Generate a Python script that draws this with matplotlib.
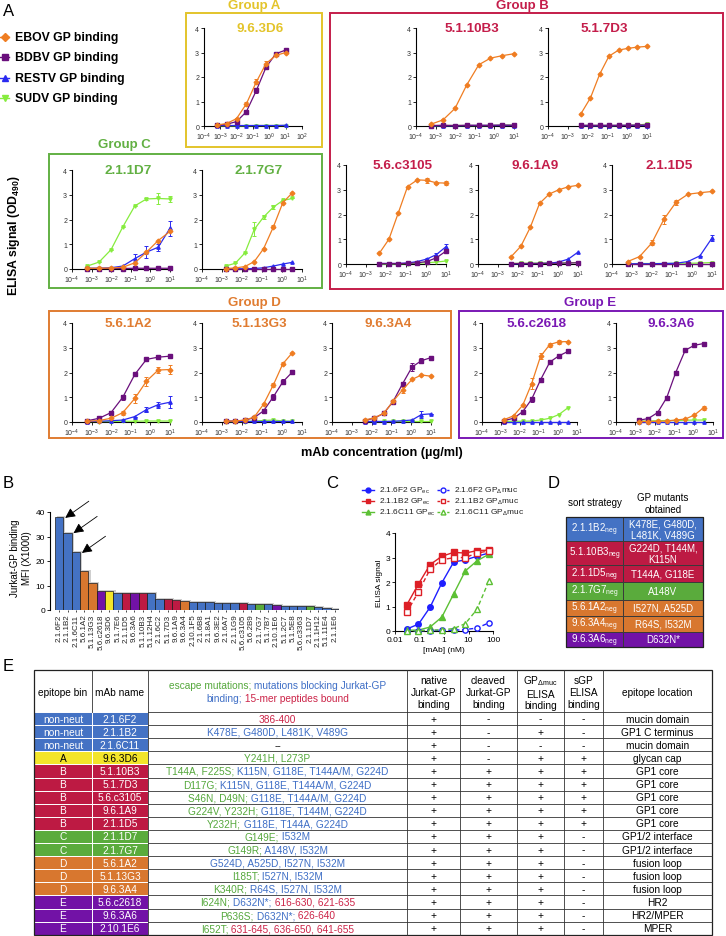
import numpy as np
import matplotlib
matplotlib.use("Agg")
import matplotlib.pyplot as plt
from matplotlib.patches import Rectangle

W, H = 726, 937

# ---------------- A: ELISA titrations (OD490 vs mAb ug/ml) ----------------
CONC_4X = [0.00061, 0.0024, 0.0098, 0.039, 0.16, 0.63, 2.5, 10]
CONC_3X_HI = [0.0046, 0.014, 0.041, 0.12, 0.37, 1.1, 3.3, 10]
CONC_3X_LO = [0.0015, 0.0046, 0.014, 0.041, 0.12, 0.37, 1.1, 3.3]
VIRUSES = ["EBOV", "BDBV", "RESTV", "SUDV"]

MAB_963D6 = {
    "EBOV": [0.04, 0.10, 0.30, 0.90, 1.80, 2.55, 2.88, 3.00],
    "BDBV": [0.03, 0.07, 0.18, 0.58, 1.45, 2.40, 2.95, 3.10],
    "RESTV": [0.02, 0.02, 0.02, 0.02, 0.02, 0.02, 0.02, 0.03],
    "SUDV": [0.01, 0.01, 0.01, 0.01, 0.02, 0.02, 0.02, 0.02],
    "EBOV_sd": [0, 0, 0.04, 0.10, 0.10, 0.12, 0.03, 0.03],
    "BDBV_sd": [0, 0, 0, 0.05, 0.10, 0.05, 0.03, 0.03],
}
MAB_5110B3 = {
    "EBOV": [0.08, 0.25, 0.72, 1.68, 2.50, 2.77, 2.87, 2.95],
    "BDBV": [0.02, 0.03, 0.02, 0.03, 0.03, 0.03, 0.04, 0.03],
    "RESTV": [0.01, 0.01, 0.01, 0.02, 0.02, 0.02, 0.02, 0.02],
    "SUDV": [0.01, 0.02, 0.02, 0.02, 0.02, 0.02, 0.03, 0.04],
}
MAB_517D3 = {
    "EBOV": [0.50, 1.15, 2.12, 2.85, 3.10, 3.17, 3.22, 3.25],
    "BDBV": [0.03, 0.03, 0.03, 0.03, 0.03, 0.03, 0.04, 0.04],
    "RESTV": [0.01, 0.01, 0.01, 0.01, 0.02, 0.02, 0.02, 0.02],
    "SUDV": [0.02, 0.02, 0.02, 0.02, 0.02, 0.03, 0.04, 0.08],
}
MAB_56C3105 = {
    "EBOV": [0.43, 1.00, 2.06, 3.13, 3.40, 3.38, 3.28, 3.27],
    "BDBV": [0.02, 0.02, 0.02, 0.03, 0.05, 0.10, 0.25, 0.52],
    "RESTV": [0.02, 0.02, 0.02, 0.04, 0.10, 0.20, 0.38, 0.70],
    "SUDV": [0.00, 0.00, 0.01, 0.02, 0.03, 0.05, 0.08, 0.12],
    "EBOV_sd": [0, 0, 0, 0, 0, 0.10, 0.04, 0.08],
    "BDBV_sd": [0, 0, 0, 0, 0, 0, 0.05, 0.05],
    "RESTV_sd": [0, 0, 0, 0, 0, 0.05, 0.08, 0.10],
}
MAB_961A9 = {
    "EBOV": [0.30, 0.72, 1.48, 2.45, 2.83, 3.00, 3.12, 3.18],
    "BDBV": [0.02, 0.02, 0.02, 0.02, 0.03, 0.03, 0.04, 0.05],
    "RESTV": [0.01, 0.01, 0.02, 0.02, 0.03, 0.08, 0.20, 0.48],
    "SUDV": [0.02, 0.03, 0.03, 0.04, 0.04, 0.04, 0.05, 0.06],
}
MAB_211D5 = {
    "EBOV": [0.10, 0.30, 0.85, 1.80, 2.50, 2.82, 2.88, 2.93],
    "BDBV": [0.02, 0.02, 0.02, 0.02, 0.02, 0.02, 0.02, 0.02],
    "RESTV": [0.01, 0.01, 0.01, 0.02, 0.03, 0.10, 0.33, 1.05],
    "SUDV": [0.01, 0.02, 0.02, 0.02, 0.03, 0.03, 0.04, 0.06],
    "EBOV_sd": [0, 0, 0.10, 0.18, 0.10, 0, 0, 0],
    "RESTV_sd": [0, 0, 0, 0, 0, 0, 0, 0.12],
}
MAB_211D7 = {
    "EBOV": [0.03, 0.03, 0.04, 0.07, 0.25, 0.68, 1.15, 1.52],
    "BDBV": [0.02, 0.02, 0.02, 0.02, 0.03, 0.03, 0.03, 0.03],
    "RESTV": [0.03, 0.03, 0.05, 0.12, 0.42, 0.68, 0.88, 1.65],
    "SUDV": [0.12, 0.28, 0.78, 1.70, 2.55, 2.83, 2.85, 2.83],
    "RESTV_sd": [0, 0, 0, 0, 0.18, 0.25, 0.15, 0.30],
    "SUDV_sd": [0, 0, 0, 0, 0, 0.05, 0.22, 0.12],
}
MAB_217G7 = {
    "EBOV": [0.02, 0.04, 0.10, 0.30, 0.82, 1.70, 2.68, 3.08],
    "BDBV": [0.02, 0.02, 0.02, 0.02, 0.02, 0.02, 0.02, 0.02],
    "RESTV": [0.01, 0.01, 0.01, 0.02, 0.05, 0.12, 0.20, 0.27],
    "SUDV": [0.12, 0.23, 0.65, 1.60, 2.10, 2.50, 2.77, 2.85],
    "EBOV_sd": [0, 0, 0, 0, 0, 0.06, 0, 0],
    "SUDV_sd": [0, 0, 0, 0.28, 0.07, 0.08, 0, 0],
}
MAB_561A2 = {
    "EBOV": [0.03, 0.06, 0.15, 0.38, 0.95, 1.65, 2.10, 2.12],
    "BDBV": [0.05, 0.15, 0.38, 1.00, 1.92, 2.53, 2.62, 2.66],
    "RESTV": [0.02, 0.03, 0.05, 0.08, 0.22, 0.50, 0.70, 0.80],
    "SUDV": [0.02, 0.02, 0.02, 0.03, 0.03, 0.04, 0.04, 0.04],
    "EBOV_sd": [0, 0, 0, 0.08, 0.20, 0.18, 0.12, 0.18],
    "BDBV_sd": [0, 0, 0.05, 0.10, 0.08, 0.05, 0, 0],
    "RESTV_sd": [0, 0, 0, 0, 0, 0.10, 0.12, 0.25],
}
MAB_5113G3 = {
    "EBOV": [0.03, 0.04, 0.08, 0.20, 0.72, 1.50, 2.35, 2.80],
    "BDBV": [0.03, 0.04, 0.07, 0.18, 0.45, 1.02, 1.62, 2.02],
    "RESTV": [0.03, 0.03, 0.03, 0.03, 0.03, 0.03, 0.03, 0.03],
    "SUDV": [0.02, 0.02, 0.02, 0.04, 0.06, 0.08, 0.04, 0.03],
    "EBOV_sd": [0, 0, 0, 0, 0, 0.08, 0.06, 0],
    "BDBV_sd": [0, 0, 0, 0, 0.08, 0.12, 0.10, 0.08],
}
MAB_963A4 = {
    "EBOV": [0.08, 0.17, 0.35, 0.83, 1.30, 1.72, 1.90, 1.85],
    "BDBV": [0.06, 0.16, 0.35, 0.82, 1.55, 2.22, 2.48, 2.60],
    "RESTV": [0.02, 0.02, 0.02, 0.03, 0.05, 0.08, 0.30, 0.33],
    "SUDV": [0.03, 0.03, 0.03, 0.03, 0.03, 0.03, 0.03, 0.03],
    "EBOV_sd": [0, 0, 0, 0, 0.12, 0, 0, 0],
    "BDBV_sd": [0, 0, 0, 0, 0.05, 0.15, 0.10, 0],
    "RESTV_sd": [0, 0, 0, 0, 0, 0, 0.15, 0],
}
MAB_56C2618 = {
    "EBOV": [0.10, 0.25, 0.68, 1.55, 2.65, 3.13, 3.24, 3.25],
    "BDBV": [0.06, 0.15, 0.42, 0.92, 1.70, 2.42, 2.67, 2.85],
    "RESTV": [0.02, 0.02, 0.02, 0.02, 0.02, 0.02, 0.02, 0.02],
    "SUDV": [0.02, 0.03, 0.03, 0.04, 0.08, 0.15, 0.30, 0.57],
    "EBOV_sd": [0, 0, 0, 0.22, 0.12, 0.08, 0.08, 0],
    "BDBV_sd": [0, 0, 0, 0.10, 0.06, 0.05, 0, 0],
}
MAB_963A6 = {
    "EBOV": [0.02, 0.02, 0.03, 0.04, 0.08, 0.12, 0.28, 0.58],
    "BDBV": [0.07, 0.14, 0.38, 0.98, 2.00, 2.90, 3.10, 3.17],
    "RESTV": [0.02, 0.02, 0.02, 0.02, 0.02, 0.02, 0.02, 0.02],
    "SUDV": [0.04, 0.04, 0.05, 0.06, 0.06, 0.07, 0.08, 0.08],
    "EBOV_sd": [0, 0, 0, 0, 0, 0, 0, 0.08],
    "BDBV_sd": [0, 0, 0, 0, 0.06, 0, 0, 0],
}

# ---------------- B: Jurkat-GP binding ----------------
B_MABS = ["2.1.6F2", "2.1.1B2", "2.1.6C11", "5.6.1A2", "5.1.13G3", "5.6.c2618",
          "9.6.3D6", "5.1.7E6", "2.1.1D5", "9.6.3A6", "5.1.10B3", "5.1.12H4",
          "2.1.6C2", "5.1.7D3", "9.6.1A9", "9.6.3A4", "2.10.1F5", "2.1.6B8",
          "2.1.8A1", "9.6.3E2", "2.1.6A7", "2.1.1G9", "5.6.c3105", "5.6.2B9",
          "2.1.7G7", "5.1.7B7", "2.10.1E6", "5.1.2C7", "5.1.5E8", "5.6.c3363",
          "2.1.1D7", "2.1.1H12", "5.1.11E4", "2.1.1E6"]
B_MFI = [37.8, 31.6, 23.5, 16.0, 10.9, 7.9, 7.6, 7.1, 7.1, 6.8, 6.8, 6.8,
         4.6, 4.4, 4.1, 3.8, 3.4, 3.4, 3.4, 3.0, 3.0, 2.9, 2.7, 2.6,
         2.6, 2.5, 2.1, 1.8, 1.8, 1.7, 1.5, 1.3, 1.0, 0.6]
B_BIN = ["N", "N", "N", "D", "D", "E", "A", "N", "B", "E", "B", "N",
         "N", "B", "B", "D", "N", "N", "N", "N", "N", "N", "B", "N",
         "C", "N", "E", "N", "N", "N", "C", "N", "N", "N"]

# ---------------- C: ELISA, GPec vs GP-delta-muc ----------------
C_CONC = [0.030, 0.091, 0.27, 0.82, 2.5, 7.4, 22, 67]
F2_EC = [0.08, 0.28, 0.97, 1.97, 2.82, 2.90, 3.05, 3.18]
B2_EC = [1.06, 1.92, 2.71, 3.05, 3.21, 3.18, 3.28, 3.30]
C11_EC = [0.03, 0.04, 0.16, 0.57, 1.52, 2.45, 2.86, 3.13]
F2_DMUC = [0.00, 0.02, 0.02, 0.03, 0.03, 0.06, 0.12, 0.33]
B2_DMUC = [0.76, 1.60, 2.52, 2.91, 2.99, 3.00, 3.18, 3.27]
C11_DMUC = [0.00, 0.01, 0.03, 0.05, 0.10, 0.30, 0.88, 2.03]

# ---------------- D: escape sorts ----------------
D_SORT = ["2.1.1B2", "5.1.10B3", "2.1.1D5", "2.1.7G7", "5.6.1A2", "9.6.3A4", "9.6.3A6"]
D_MUTANTS = ["K478E, G480D,\nL481K, V489G", "G224D, T144M,\nK115N", "T144A, G118E",
             "A148V", "I527N, A525D", "R64S, I532M", "D632N*"]
D_BIN = ["N", "B", "B", "C", "D", "D", "E"]

# ---------------- E: summary table ----------------
E_BIN = ["non-neut", "non-neut", "non-neut", "A", "B", "B", "B", "B", "B",
         "C", "C", "D", "D", "D", "E", "E", "E"]
E_MAB = ["2.1.6F2", "2.1.1B2", "2.1.6C11", "9.6.3D6", "5.1.10B3", "5.1.7D3",
         "5.6.c3105", "9.6.1A9", "2.1.1D5", "2.1.1D7", "2.1.7G7", "5.6.1A2",
         "5.1.13G3", "9.6.3A4", "5.6.c2618", "9.6.3A6", "2.10.1E6"]
E_MUT = [
    [("386-400", "r")],
    [("K478E, G480D, L481K, V489G", "b")],
    [("--", "k")],
    [("Y241H, L273P", "g")],
    [("T144A, F225S;", "g"), (" K115N, G118E, T144A/M, G224D", "b")],
    [("D117G;", "g"), (" K115N, G118E, T144A/M, G224D", "b")],
    [("S46N, D49N;", "g"), (" G118E, T144A/M, G224D", "b")],
    [("G224V, Y232H;", "g"), (" G118E, T144M, G224D", "b")],
    [("Y232H;", "g"), (" G118E, T144A, G224D", "b")],
    [("G149E;", "g"), (" I532M", "b")],
    [("G149R;", "g"), (" A148V, I532M", "b")],
    [("G524D, A525D, I527N, I532M", "b")],
    [("I185T;", "g"), (" I527N, I532M", "b")],
    [("K340R;", "g"), (" R64S, I527N, I532M", "b")],
    [("I624N;", "g"), (" D632N*;", "b"), (" 616-630, 621-635", "r")],
    [("P636S;", "g"), (" D632N*;", "b"), (" 626-640", "r")],
    [("I652T;", "g"), (" 631-645, 636-650, 641-655", "r")],
]
E_NATIVE = ["+", "+", "+", "+", "+", "+", "+", "+", "+", "+", "+", "+", "+", "+", "+", "+", "+"]
E_CLEAVED = ["-", "-", "-", "-", "+", "+", "+", "+", "+", "+", "+", "+", "+", "+", "+", "+", "+"]
E_DMUC = ["-", "+", "-", "+", "+", "+", "+", "+", "+", "+", "+", "+", "+", "+", "+", "+", "+"]
E_SGP = ["-", "-", "-", "+", "+", "+", "+", "+", "+", "-", "-", "-", "-", "-", "-", "-", "-"]
E_LOC = ["mucin domain", "GP1 C terminus", "mucin domain", "glycan cap", "GP1 core",
         "GP1 core", "GP1 core", "GP1 core", "GP1 core", "GP1/2 interface",
         "GP1/2 interface", "fusion loop", "fusion loop", "fusion loop", "HR2",
         "HR2/MPER", "MPER"]

# ---------------- style ----------------
plt.rcParams["font.family"] = ["Liberation Sans", "DejaVu Sans"]
plt.rcParams["mathtext.fontset"] = "custom"
plt.rcParams["mathtext.rm"] = "Liberation Sans"
plt.rcParams["mathtext.it"] = "Liberation Sans:italic"
plt.rcParams["mathtext.bf"] = "Liberation Sans:bold"
plt.rcParams["axes.unicode_minus"] = False

VCOL = {"EBOV": "#ef7d22", "BDBV": "#6a0f7c", "RESTV": "#2a2af0", "SUDV": "#86ec3e"}
VMARK = {"EBOV": "D", "BDBV": "s", "RESTV": "^", "SUDV": "v"}
GROUP_COL = {"A": "#e3c42b", "B": "#c41d4a", "C": "#62b043", "D": "#e07c31", "E": "#7a18b4"}
BIN_COL = {"N": "#4472c4", "A": "#f3e52a", "B": "#bd1a43", "C": "#5aab3c",
           "D": "#d8772f", "E": "#7212a6"}
TXT_COL = {"g": "#55a83c", "b": "#3f6fc6", "r": "#cc2448", "k": "#111111"}

fig = plt.figure(figsize=(W / 100, H / 100), dpi=100)
ov = fig.add_axes([0, 0, 1, 1])
ov.set_xlim(0, W)
ov.set_ylim(H, 0)
ov.axis("off")
renderer = fig.canvas.get_renderer()


def add_ax(x0, y0, x1, y1):
    # pixel box: x0 left, y0 top, x1 right, y1 bottom
    ax = fig.add_axes([x0 / W, 1 - y1 / H, (x1 - x0) / W, (y1 - y0) / H])
    ax.patch.set_alpha(0)
    return ax


def rich_text(x, y, parts, fontsize):
    texts = [ov.text(0, y, s, color=TXT_COL[c], fontsize=fontsize, ha="left", va="center")
             for s, c in parts]
    widths = [t.get_window_extent(renderer).width for t in texts]
    x0 = x - sum(widths) / 2
    for t, w in zip(texts, widths):
        t.set_x(x0)
        x0 += w


def elisa(ax, conc, d, title, tcolor, xmax):
    for v in ["SUDV", "RESTV", "BDBV", "EBOV"]:
        ax.errorbar(conc, d[v], yerr=d.get(v + "_sd"), color=VCOL[v], marker=VMARK[v],
                    ms=2.4, lw=0.9, elinewidth=0.7, capsize=1.3, capthick=0.7,
                    clip_on=False, zorder=3)
    ax.set_xscale("log")
    ax.set_xlim(1e-4, xmax)
    ax.set_ylim(0, 4)
    ax.set_yticks(range(5))
    ax.set_xticks([10.0 ** k for k in range(-4, int(round(np.log10(xmax))) + 1)])
    ax.tick_params(labelsize=5, length=2.5, width=0.6, pad=1, labelcolor="#333333")
    ax.tick_params(which="minor", length=1.5, width=0.5)
    for s in ["top", "right"]:
        ax.spines[s].set_visible(False)
    for s in ["left", "bottom"]:
        ax.spines[s].set_linewidth(0.8)
    ax.text(0.57, 1.0, title, transform=ax.transAxes, ha="center", va="center",
            fontsize=9.7, weight="bold", color=tcolor)


# ---------------- panel A ----------------
ov.text(3, 12, "A", fontsize=12, va="center")
for i, v in enumerate(VIRUSES):
    y = 38 + 20.3 * i
    ov.plot([0, 9], [y, y], color=VCOL[v], lw=1)
    ov.plot(4.5, y, marker=VMARK[v], color=VCOL[v], ms=4.2)
    ov.text(15, y, v + " GP binding", fontsize=8.8, weight="bold", va="center")

boxes = [("A", 186, 14, 322, 148, 254, 6), ("B", 330, 14, 723, 290, 522, 6),
         ("C", 49, 155, 322, 289, 124, 145), ("D", 49, 312, 451, 439, 254, 303),
         ("E", 459, 312, 723, 439, 590, 303)]
for g, x0, y0, x1, y1, tx, ty in boxes:
    ov.add_patch(Rectangle((x0, y0), x1 - x0, y1 - y0, fill=False,
                           ec=GROUP_COL[g], lw=1.4))
    ov.text(tx, ty, "Group " + g, ha="center", va="center", fontsize=9.5,
            weight="bold", color=GROUP_COL[g])

elisa_layout = [
    ("9.6.3D6", MAB_963D6, CONC_4X, (204, 29, 302, 127), 1e2, "A"),
    ("5.1.10B3", MAB_5110B3, CONC_4X, (416, 29, 514, 127), 1e1, "B"),
    ("5.1.7D3", MAB_517D3, CONC_3X_HI, (548, 29, 647, 127), 1e1, "B"),
    ("5.6.c3105", MAB_56C3105, CONC_3X_HI, (346, 166, 446, 265), 1e1, "B"),
    ("9.6.1A9", MAB_961A9, CONC_3X_HI, (478, 166, 578, 265), 1e1, "B"),
    ("2.1.1D5", MAB_211D5, CONC_4X, (612, 166, 712, 265), 1e1, "B"),
    ("2.1.1D7", MAB_211D7, CONC_4X, (72, 171, 170, 270), 1e1, "C"),
    ("2.1.7G7", MAB_217G7, CONC_3X_LO, (202, 171, 302, 270), 1e1, "C"),
    ("5.6.1A2", MAB_561A2, CONC_4X, (72, 324, 170, 423), 1e1, "D"),
    ("5.1.13G3", MAB_5113G3, CONC_3X_LO, (202, 324, 302, 423), 1e1, "D"),
    ("9.6.3A4", MAB_963A4, CONC_3X_HI, (332, 324, 431, 423), 1e1, "D"),
    ("5.6.c2618", MAB_56C2618, CONC_3X_LO, (482, 324, 577, 423), 1e1, "E"),
    ("9.6.3A6", MAB_963A6, CONC_3X_LO, (616, 324, 713, 423), 1e1, "E"),
]
for name, d, conc, rect, xmax, g in elisa_layout:
    elisa(add_ax(*rect), conc, d, name, GROUP_COL[g], xmax)

ov.text(14, 236, "ELISA signal (OD$_{\\mathbf{490}}$)", rotation=90, ha="center",
        va="center", fontsize=8.8, weight="bold")
ov.text(382, 453, "mAb concentration (µg/ml)", ha="center", va="center",
        fontsize=9.2, weight="bold")

# ---------------- panel B ----------------
ov.text(3, 484, "B", fontsize=12, va="center")
axb = add_ax(50, 513, 339, 611)
xb = np.arange(len(B_MFI))
axb.bar(xb + 0.25, np.array(B_MFI) + 0.4, width=1.0, color="#cfcfcf", zorder=1)
axb.bar(xb, B_MFI, width=1.0, color=[BIN_COL[b] for b in B_BIN],
        edgecolor="#1a1a1a", lw=0.5, zorder=2)
axb.set_xlim(-1.1, len(B_MFI) - 0.5)
axb.set_ylim(0, 40)
axb.set_yticks([0, 10, 20, 30, 40])
axb.set_xticks(xb)
axb.set_xticklabels(B_MABS, rotation=90, fontsize=5.8, color="#222222")
axb.tick_params(axis="y", labelsize=6, length=2.5, width=0.6, pad=1)
axb.tick_params(axis="x", length=1.5, width=0.5, pad=1)
for s in ["top", "right", "bottom"]:
    axb.spines[s].set_visible(False)
axb.spines["left"].set_linewidth(0.8)
for i in range(3):
    axb.annotate("", xy=(i + 0.72, B_MFI[i] - 0.2), xytext=(17, 12),
                 textcoords="offset points", annotation_clip=False,
                 arrowprops=dict(arrowstyle="-|>,head_length=0.6,head_width=0.3",
                                 color="black", lw=0.6, mutation_scale=10,
                                 shrinkA=0, shrinkB=0))
ov.text(21, 558, "Jurkat-GP binding\nMFI (X1000)", rotation=90, ha="center",
        va="center", fontsize=7, linespacing=1.15)

# ---------------- panel C ----------------
ov.text(326, 484, "C", fontsize=12, va="center")
c_blue, c_red, c_green = "#1f1fff", "#dd1f26", "#5cc034"
c_series = [
    ("2.1.6F2 GP$_{\\mathrm{ec}}$", F2_EC, c_blue, "o", True),
    ("2.1.1B2 GP$_{\\mathrm{ec}}$", B2_EC, c_red, "s", True),
    ("2.1.6C11 GP$_{\\mathrm{ec}}$", C11_EC, c_green, "^", True),
    ("2.1.6F2 GP$_{\\mathrm{Δ}}$muc", F2_DMUC, c_blue, "o", False),
    ("2.1.1B2 GP$_{\\mathrm{Δ}}$muc", B2_DMUC, c_red, "s", False),
    ("2.1.6C11 GP$_{\\mathrm{Δ}}$muc", C11_DMUC, c_green, "^", False),
]
axc = add_ax(395, 534, 493, 632)
for k, (lab, vals, col, mk, filled) in enumerate(c_series):
    style = dict(color=col, marker=mk, ms=4, lw=1, clip_on=False, zorder=3)
    if not filled:
        style.update(mfc="white", ls=(0, (3, 2)), ms=3.8)
    axc.plot(C_CONC, vals, **style)
    lx = 362 if filled else 437
    ly = 491 + 11.2 * (k % 3)
    ov.plot([lx, lx + 12], [ly, ly], color=col, lw=1,
            ls="-" if filled else (0, (2, 1.5)))
    ov.plot(lx + 6, ly, marker=mk, color=col, ms=3.5,
            mfc=col if filled else "white")
    ov.text(lx + 17, ly, lab, fontsize=6, va="center", color="#222222")
axc.set_xscale("log")
axc.set_xlim(0.01, 100)
axc.set_ylim(0, 4)
axc.set_xticks([0.01, 0.1, 1, 10, 100])
axc.set_xticklabels(["0.01", "0.1", "1", "10", "100"])
axc.set_yticks(range(5))
axc.tick_params(labelsize=6, length=2.5, width=0.6, pad=1)
axc.tick_params(which="minor", length=1.5, width=0.5)
for s in ["top", "right"]:
    axc.spines[s].set_visible(False)
axc.set_ylabel("ELISA signal", fontsize=6, labelpad=2)
axc.set_xlabel("[mAb] (nM)", fontsize=6, labelpad=2)

# ---------------- panel D ----------------
ov.text(548, 484, "D", fontsize=12, va="center")
ov.text(594.5, 503, "sort strategy", ha="center", va="center", fontsize=7)
ov.text(663, 504, "GP mutants\nobtained", ha="center", va="center", fontsize=7,
        linespacing=1.2)
d_rows = [518, 542, 566, 583, 601, 617, 633, 648]
for i, (srt, mut, b) in enumerate(zip(D_SORT, D_MUTANTS, D_BIN)):
    y0, y1 = d_rows[i], d_rows[i + 1]
    for x0, x1 in [(566, 623), (623, 703)]:
        ov.add_patch(Rectangle((x0, y0), x1 - x0, y1 - y0, fc=BIN_COL[b],
                               ec="#3a3a3a", lw=0.7))
    ym = (y0 + y1) / 2
    ov.text(594.5, ym, srt + "$_{\\mathrm{neg}}$", ha="center", va="center",
            fontsize=7, color="white")
    ov.text(663, ym, mut, ha="center", va="center", fontsize=7, color="white",
            linespacing=1.15)
ov.add_patch(Rectangle((566, 518), 137, 130, fill=False, ec="#222222", lw=0.9))

# ---------------- panel E ----------------
ov.text(3, 667, "E", fontsize=12, va="center")
cols = [34, 92, 148, 407, 460, 517, 564, 603, 712]
e_top, e_head, e_pitch = 671, 713, 13.1
e_fs = 7.3
e_bottom = e_head + e_pitch * len(E_MAB)
centers = [(a + b) / 2 for a, b in zip(cols[:-1], cols[1:])]

heads = ["epitope bin", "mAb name", None, "native\nJurkat-GP\nbinding",
         "cleaved\nJurkat-GP\nbinding", "GP$_{\\mathrm{Δmuc}}$\nELISA\nbinding",
         "sGP\nELISA\nbinding", "epitope location"]
for cx, h in zip(centers, heads):
    if h:
        ov.text(cx, 693, h, ha="center", va="center", fontsize=e_fs, linespacing=1.2)
rich_text(centers[2], 686, [("escape mutations;", "g"),
                            (" mutations blocking Jurkat-GP", "b")], e_fs)
rich_text(centers[2], 699, [("binding;", "b"), (" 15-mer peptides bound", "r")], e_fs)

for i in range(len(E_MAB)):
    y0 = e_head + e_pitch * i
    ym = y0 + e_pitch / 2
    key = "N" if E_BIN[i] == "non-neut" else E_BIN[i]
    tc = "black" if key == "A" else "white"
    for j in range(2):
        ov.add_patch(Rectangle((cols[j], y0), cols[j + 1] - cols[j], e_pitch,
                               fc=BIN_COL[key], ec="white", lw=0.7))
    ov.text(centers[0], ym, E_BIN[i], ha="center", va="center", fontsize=e_fs, color=tc)
    ov.text(centers[1], ym, E_MAB[i], ha="center", va="center", fontsize=e_fs, color=tc)
    rich_text(centers[2], ym, E_MUT[i], e_fs)
    for j, col_vals in zip(range(3, 7), [E_NATIVE, E_CLEAVED, E_DMUC, E_SGP]):
        ov.text(centers[j], ym, col_vals[i], ha="center", va="center", fontsize=e_fs)
    ov.text(centers[7], ym, E_LOC[i], ha="center", va="center", fontsize=e_fs)
    ov.plot([cols[2], cols[-1]], [y0, y0], color="#333333", lw=0.6)

for x in cols[1:-1]:
    ov.plot([x, x], [e_top, e_head], color="#333333", lw=0.6)
for x in cols[2:-1]:
    ov.plot([x, x], [e_head, e_bottom], color="#333333", lw=0.6)
ov.add_patch(Rectangle((cols[0], e_top), cols[-1] - cols[0], e_bottom - e_top,
                       fill=False, ec="#222222", lw=0.9))

fig.savefig("out.png", dpi=100)
